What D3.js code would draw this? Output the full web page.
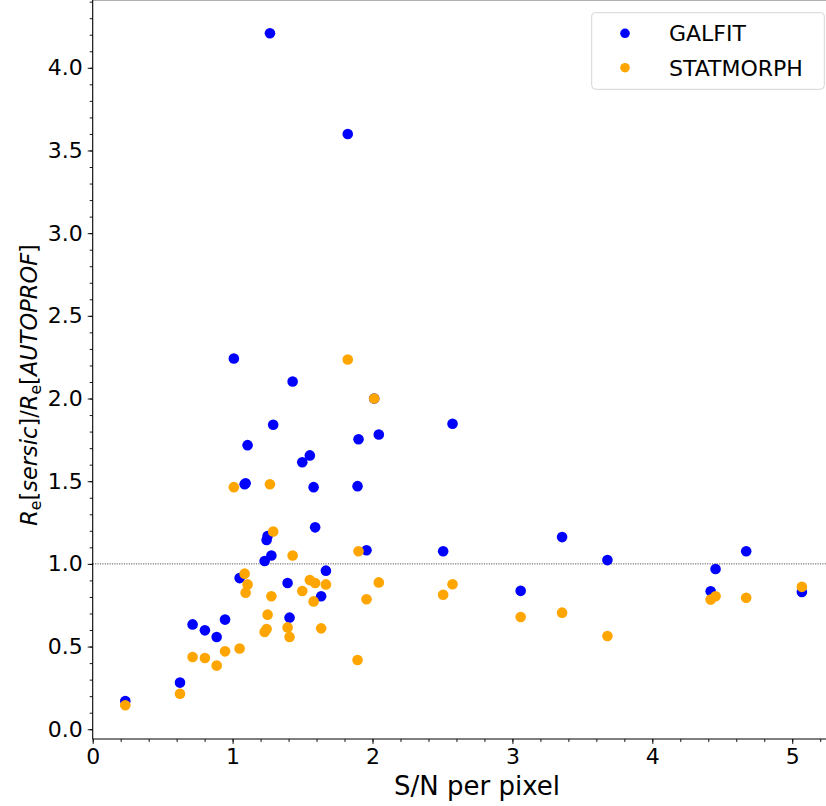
<!DOCTYPE html>
<html>
<head>
<meta charset="utf-8">
<script src="https://cdn.jsdelivr.net/npm/d3@7"></script>
<style>
  html, body { margin: 0; padding: 0; background: #fff; }
  svg { display: block; font-family: "DejaVu Sans", sans-serif; }
</style>
</head>
<body>
<svg id="chart" width="826" height="806"></svg>
<script>
// S/N per pixel for each galaxy
const snr = [0.233, 0.624, 0.714, 0.802, 0.886, 0.946, 1.009, 1.05, 1.086, 1.093, 1.107,
  1.229, 1.243, 1.25, 1.267, 1.277, 1.29, 1.393, 1.407, 1.429, 1.498, 1.552, 1.579, 1.59,
  1.633, 1.667, 1.823, 1.893, 1.9, 1.957, 2.012, 2.045, 2.505, 2.572, 3.059, 3.355, 3.679,
  4.417, 4.452, 4.671, 5.069];
// Re[sersic]/Re[AUTOPROF] ratios
const galfit = [0.171, 0.282, 0.634, 0.598, 0.558, 0.663, 2.242, 0.914, 1.482, 1.488, 1.718,
  1.017, 1.144, 1.168, 4.209, 1.051, 1.841, 0.884, 0.675, 2.103, 1.615, 1.656, 1.464, 1.221,
  0.804, 0.959, 3.600, 1.470, 1.754, 1.082, 2.0, 1.782, 1.076, 1.847, 0.837, 1.162, 1.023,
  0.834, 0.969, 1.076, 0.830];
const statmorph = [0.145, 0.215, 0.437, 0.431, 0.385, 0.471, 1.464, 0.488, 0.941, 0.826, 0.876,
  0.588, 0.606, 0.693, 1.482, 0.804, 1.196, 0.616, 0.558, 1.051, 0.836, 0.902, 0.773, 0.884,
  0.610, 0.876, 2.236, 0.419, 1.076, 0.786, 2.0, 0.888, 0.813, 0.877, 0.679, 0.705, 0.564,
  0.784, 0.804, 0.795, 0.861];
const seriesNames = ["GALFIT", "STATMORPH"];
const seriesColors = ["#0000ff", "#ffa500"];
const xTicks = [0, 1, 2, 3, 4, 5];
const yTicks = [0, 0.5, 1, 1.5, 2, 2.5, 3, 3.5, 4];
const refLine = 1.0;

const svg = d3.select("#chart");
const L = 92.7, R = 827.2, T = 0, B = 739;
const x = d3.scaleLinear().domain([0, 5.25]).range([L, R]);
const y = d3.scaleLinear().domain([-0.059, 4.41]).range([B, T]);

// top spine (partially cropped)
svg.append("line").attr("x1", L).attr("x2", 826).attr("y1", 0.5).attr("y2", 0.5)
  .attr("stroke", "#b0b0b0").attr("stroke-width", 1);

// reference line
svg.append("line").attr("x1", L).attr("x2", 826).attr("y1", y(refLine)).attr("y2", y(refLine))
  .attr("stroke", "#444").attr("stroke-width", 0.9).attr("stroke-dasharray", "1.2,1.2");

// axes
const fs = 22;
const xAxis = d3.axisBottom(x).tickValues(xTicks).tickFormat(d3.format("d")).tickSize(5).tickPadding(4);
const xMinor = d3.axisBottom(x).tickValues(d3.range(0, 5.25, 0.2)).tickFormat("").tickSize(3);
const yAxis = d3.axisLeft(y).tickValues(yTicks).tickFormat(d3.format(".1f")).tickSize(5).tickPadding(5);
const yMinor = d3.axisLeft(y).tickValues(d3.range(0, 4.41, 0.1)).tickFormat("").tickSize(3);

function styleAxis(g) {
  g.select(".domain").remove();
  g.selectAll("line").attr("stroke", "#000").attr("stroke-width", 0.9);
  g.selectAll("text").attr("font-size", fs).attr("fill", "#000").attr("font-family", "DejaVu Sans");
}
svg.append("g").attr("transform", `translate(0,${B})`).call(xMinor).call(styleAxis);
svg.append("g").attr("transform", `translate(0,${B})`).call(xAxis).call(styleAxis);
svg.append("g").attr("transform", `translate(${L},0)`).call(yMinor).call(styleAxis);
svg.append("g").attr("transform", `translate(${L},0)`).call(yAxis).call(styleAxis);

// spines
svg.append("line").attr("x1", L).attr("x2", L).attr("y1", 0).attr("y2", B)
  .attr("stroke", "#000").attr("stroke-width", 1.1);
svg.append("line").attr("x1", L).attr("x2", 826).attr("y1", B).attr("y2", B)
  .attr("stroke", "#000").attr("stroke-width", 1.1);

// points
const data = [galfit, statmorph];
data.forEach((vals, si) => {
  svg.append("g").selectAll("circle").data(vals).join("circle")
    .attr("cx", (d, i) => x(snr[i]))
    .attr("cy", d => y(d))
    .attr("r", 5.3)
    .attr("fill", seriesColors[si]);
});

// x label
svg.append("text").attr("x", 477).attr("y", 795)
  .attr("text-anchor", "middle").attr("font-size", 26).text("S/N per pixel");

// y label (mathtext-like)
const yl = svg.append("text").attr("transform", `translate(37,385) rotate(-90)`)
  .attr("text-anchor", "middle").attr("font-size", 22.5);
const parts = [
  ["R", "italic", 0], ["e", "normal", 1], ["[", "normal", 0], ["sersic", "italic", 0], ["]/", "normal", 0],
  ["R", "italic", 0], ["e", "normal", 1], ["[", "normal", 0], ["AUTOPROF", "italic", 0], ["]", "normal", 0]
];
parts.forEach(([t, st, sub], i) => {
  const ts = yl.append("tspan").attr("font-style", st).text(t);
  if (sub) ts.attr("font-size", 22.5 * 0.7).attr("dy", 4);
  else if (i > 0 && parts[i - 1][2] === 1) ts.attr("dy", -4);
});

// legend
const lg = svg.append("g");
lg.append("rect").attr("x", 591.7).attr("y", 12.7).attr("width", 232.6).attr("height", 76.6)
  .attr("rx", 4).attr("fill", "#fff").attr("fill-opacity", 0.8).attr("stroke", "#d5d5d5").attr("stroke-width", 1);
seriesNames.forEach((n, i) => {
  const cy = 33.3 + i * 34.4;
  lg.append("circle").attr("cx", 625).attr("cy", cy).attr("r", 4.8).attr("fill", seriesColors[i]);
  lg.append("text").attr("x", 669).attr("y", cy + 7.9).attr("font-size", 22).text(n);
});
</script>
</body>
</html>
